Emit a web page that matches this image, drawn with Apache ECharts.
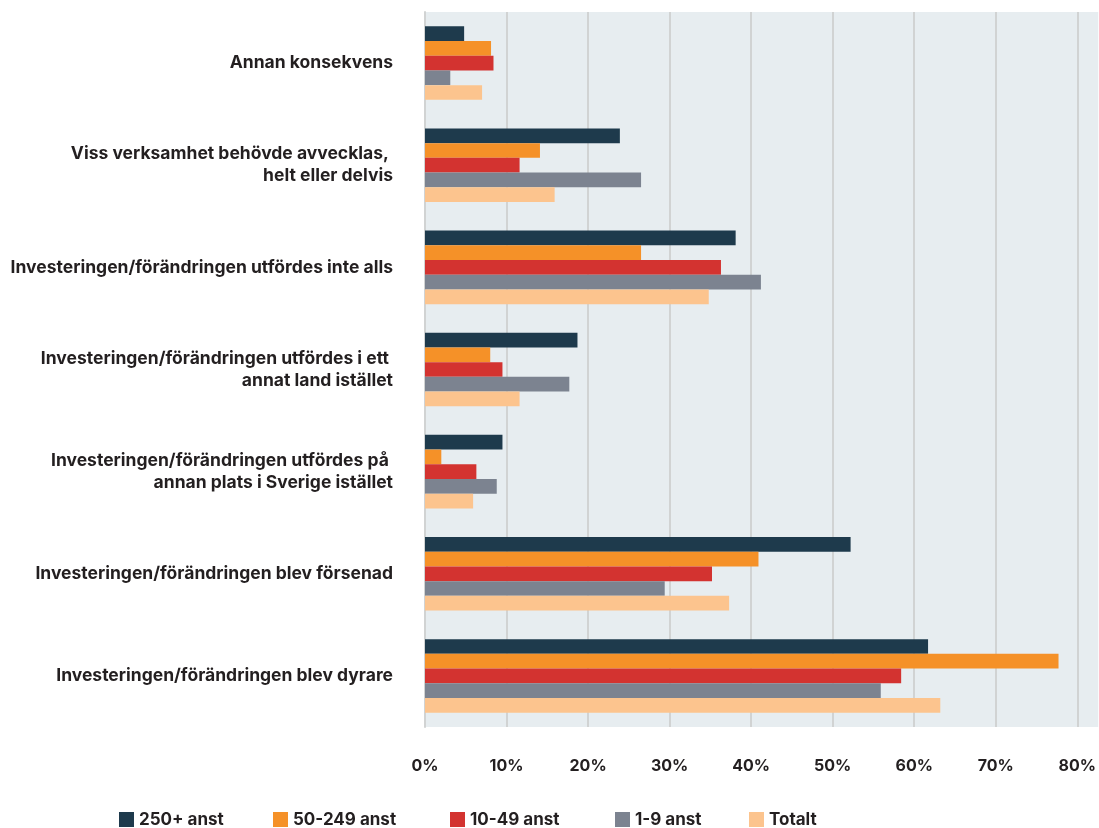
<!DOCTYPE html>
<html>
<head>
<meta charset="utf-8">
<script src="https://cdn.jsdelivr.net/npm/echarts@6/dist/echarts.min.js"></script>
<style>
  html, body { margin: 0; padding: 0; background: #fff; }
  #chart { width: 1099px; height: 828px; }
</style>
</head>
<body>
<div id="chart"></div>
<script>
const categories = [
  'Annan konsekvens',
  'Viss verksamhet behövde avvecklas, \nhelt eller delvis',
  'Investeringen/förändringen utfördes inte alls',
  'Investeringen/förändringen utfördes i ett \nannat land istället',
  'Investeringen/förändringen utfördes på \nannan plats i Sverige istället',
  'Investeringen/förändringen blev försenad',
  'Investeringen/förändringen blev dyrare'
];
const seriesNames = ['250+ anst', '50-249 anst', '10-49 anst', '1-9 anst', 'Totalt'];
const colors = ['#1e3a4c', '#f59128', '#d33330', '#7c8390', '#fcc48e'];

// values in %, one array per series, same order as categories
const big = [4.8, 23.9, 38.1, 18.7, 9.5, 52.2, 61.7];
const medium = [8.1, 14.1, 26.5, 8.0, 2.0, 40.9, 77.7];
const small = [8.4, 11.6, 36.3, 9.5, 6.3, 35.2, 58.4];
const micro = [3.1, 26.5, 41.2, 17.7, 8.8, 29.4, 55.9];
const total = [7.0, 15.9, 34.8, 11.6, 5.9, 37.3, 63.2];
const seriesData = [big, medium, small, micro, total];

const font = 'Inter, "Open Sans", sans-serif';
// legend entries sit at uneven x positions in the original
const legendLeft = [119, 273, 450, 615, 749];

const chart = echarts.init(document.getElementById('chart'));

const option = {
  animation: false,
  color: colors,
  textStyle: { fontFamily: font },
  grid: {
    left: 425,
    right: 0,
    top: 12,
    bottom: 101,
    show: true,
    backgroundColor: '#e7edf0',
    borderWidth: 0
  },
  legend: seriesNames.map((name, i) => ({
    left: legendLeft[i],
    top: 811,
    padding: 0,
    itemWidth: 15,
    itemHeight: 15,
    itemGap: 5,
    icon: 'rect',
    textStyle: { fontSize: 17, fontWeight: 'bold', color: '#231f20', fontFamily: font },
    data: [name]
  })),
  xAxis: {
    type: 'value',
    min: 0,
    // 80% lands at x=1078 while the grey panel runs to the right edge
    max: 82.57,
    interval: 10,
    axisLine: { show: false },
    axisTick: { show: false },
    axisLabel: {
      margin: 31,
      showMaxLabel: false,
      formatter: '{value}%',
      fontSize: 16,
      fontWeight: 'bold',
      color: '#231f20',
      fontFamily: font
    },
    splitLine: {
      show: true,
      showMaxLine: false,
      lineStyle: { color: '#d1d3d3', width: 2 }
    }
  },
  yAxis: {
    type: 'category',
    inverse: true,
    data: categories,
    axisLine: { show: true, lineStyle: { color: '#d1d3d3', width: 2 } },
    axisTick: { show: false },
    axisLabel: {
      margin: 32,
      align: 'right',
      fontSize: 17.5,
      fontWeight: 'bold',
      lineHeight: 22,
      color: '#231f20',
      fontFamily: font
    }
  },
  series: seriesNames.map((name, i) => ({
    name: name,
    type: 'bar',
    data: seriesData[i],
    barGap: '0%',
    barCategoryGap: '28%',
    itemStyle: { color: colors[i] }
  }))
};

chart.setOption(option);
</script>
</body>
</html>
